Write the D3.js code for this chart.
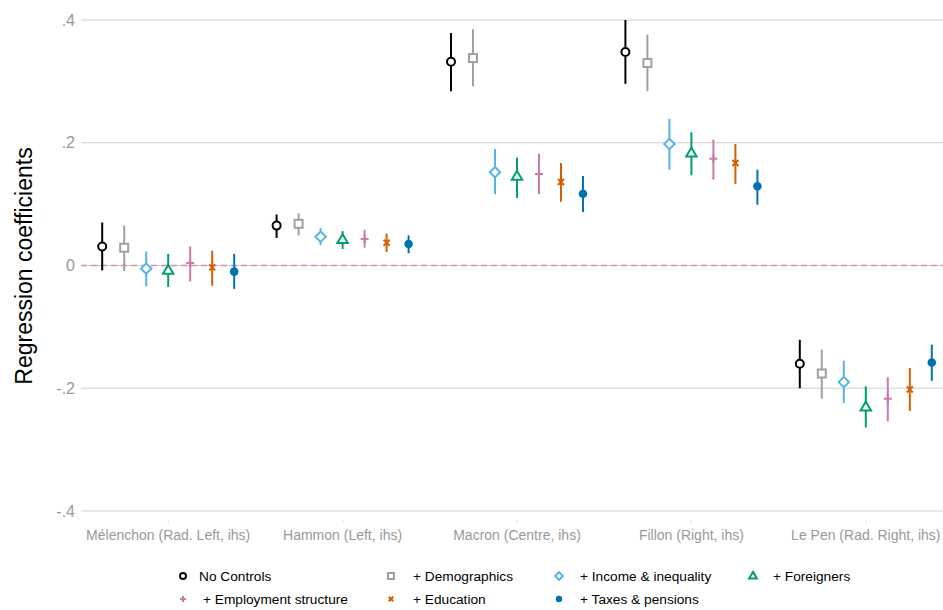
<!DOCTYPE html>
<html><head><meta charset="utf-8">
<script src="https://cdn.jsdelivr.net/npm/d3@7"></script>
<style>body{margin:0;background:#fff}svg{display:block;font-family:"Liberation Sans",Arial,sans-serif}</style>
</head><body><svg id="c" width="943" height="610"></svg>
<script>
const categories = ["Mélenchon (Rad. Left, ihs)","Hammon (Left, ihs)","Macron (Centre, ihs)","Fillon (Right, ihs)","Le Pen (Rad. Right, ihs)"];
const seriesNames = ["No Controls","+ Demographics","+ Income & inequality","+ Foreigners","+ Employment structure","+ Education","+ Taxes & pensions"];
const seriesColors = ["#000000","#a0a0a0","#56B4E9","#009E73","#CC79A7","#D55E00","#0072B2"];
const seriesSymbols = ["circle","square","diamond","triangle","plus","cross","dot"];
// estimates [category][series]
const est = [
  [0.031, 0.029, -0.005, -0.008, 0.004, -0.003, -0.010],
  [0.065, 0.068, 0.047, 0.042, 0.043, 0.037, 0.035],
  [0.332, 0.338, 0.152, 0.145, 0.149, 0.136, 0.117],
  [0.348, 0.330, 0.198, 0.183, 0.174, 0.167, 0.129],
  [-0.160, -0.176, -0.190, -0.231, -0.217, -0.202, -0.158]
];
const lower = [
  [-0.008, -0.009, -0.034, -0.035, -0.026, -0.033, -0.038],
  [0.045, 0.049, 0.033, 0.027, 0.029, 0.022, 0.020],
  [0.284, 0.292, 0.116, 0.110, 0.116, 0.104, 0.087],
  [0.296, 0.284, 0.156, 0.147, 0.140, 0.133, 0.099],
  [-0.200, -0.217, -0.224, -0.264, -0.254, -0.237, -0.188]
];
const upper = [
  [0.070, 0.065, 0.023, 0.019, 0.031, 0.024, 0.019],
  [0.083, 0.085, 0.061, 0.056, 0.058, 0.052, 0.049],
  [0.379, 0.385, 0.190, 0.176, 0.182, 0.167, 0.146],
  [0.400, 0.376, 0.239, 0.217, 0.205, 0.198, 0.156],
  [-0.121, -0.137, -0.155, -0.197, -0.182, -0.167, -0.129]
];
const yTicks = [0.4, 0.2, 0, -0.2, -0.4];
const yTickLabels = [".4", ".2", "0", "-.2", "-.4"];

const svg = d3.select("#c");
const x = d3.scaleBand().domain(categories).range([81, 953]);
const y = d3.scaleLinear().domain([-0.4, 0.4]).range([511, 20]);
const off = d3.scalePoint().domain(seriesNames).range([-66, 66]);

// gridlines
svg.append("g").selectAll("line").data(yTicks).join("line")
  .attr("x1", 81).attr("x2", 943)
  .attr("y1", d => y(d)).attr("y2", d => y(d))
  .attr("stroke", "#cfcfcf").attr("stroke-width", 1.2);
// y tick labels
svg.append("g").selectAll("text").data(yTicks).join("text")
  .attr("x", 75).attr("y", d => y(d)).attr("dy", "0.35em")
  .attr("text-anchor", "end").attr("fill", "#999").attr("font-size", 16)
  .text((d, i) => yTickLabels[i]);
// y title
svg.append("text").attr("transform", `translate(32,266) rotate(-90)`)
  .attr("text-anchor", "middle").attr("font-size", 23).attr("fill", "#000")
  .text("Regression coefficients");
// zero reference line
svg.append("line").attr("x1", 81).attr("x2", 943).attr("y1", y(0)).attr("y2", y(0))
  .attr("stroke", "#d58fb4").attr("stroke-width", 1.5).attr("stroke-dasharray", "6,4");
// x axis labels & ticks
const xg = svg.append("g");
xg.selectAll("line").data(categories).join("line")
  .attr("x1", d => x(d) + x.bandwidth() / 2).attr("x2", d => x(d) + x.bandwidth() / 2)
  .attr("y1", 520).attr("y2", 523).attr("stroke", "#ddd");
xg.selectAll("text").data(categories).join("text")
  .attr("x", d => x(d) + x.bandwidth() / 2).attr("y", 540)
  .attr("text-anchor", "middle").attr("fill", "#999").attr("font-size", 14)
  .text(d => d);

function drawSymbol(g, type, color, cx, cy, scale) {
  const s = scale || 1;
  if (type === "circle") {
    g.append("circle").attr("cx", cx).attr("cy", cy).attr("r", 4 * s).attr("fill", "#fff").attr("stroke", color).attr("stroke-width", 2);
  } else if (type === "dot") {
    g.append("circle").attr("cx", cx).attr("cy", cy).attr("r", 4.3 * s).attr("fill", color);
  } else if (type === "square") {
    g.append("rect").attr("x", cx - 4 * s).attr("y", cy - 4 * s).attr("width", 8 * s).attr("height", 8 * s).attr("fill", "#fff").attr("stroke", color).attr("stroke-width", 2);
  } else if (type === "diamond") {
    const r = 5.2 * s;
    g.append("path").attr("d", `M${cx},${cy - r}L${cx + r},${cy}L${cx},${cy + r}L${cx - r},${cy}Z`).attr("fill", "#fff").attr("stroke", color).attr("stroke-width", 2);
  } else if (type === "triangle") {
    const r = 5.5 * s;
    g.append("path").attr("d", `M${cx},${cy - r}L${cx + r * 0.95},${cy + r * 0.6}L${cx - r * 0.95},${cy + r * 0.6}Z`).attr("fill", "#fff").attr("stroke", color).attr("stroke-width", 2);
  } else if (type === "plus") {
    const r = 4 * s;
    g.append("path").attr("d", `M${cx - r},${cy}H${cx + r}M${cx},${cy - r}V${cy + r}`).attr("stroke", color).attr("stroke-width", 2);
  } else if (type === "cross") {
    const r = 3 * s;
    g.append("path").attr("d", `M${cx - r},${cy - r}L${cx + r},${cy + r}M${cx - r},${cy + r}L${cx + r},${cy - r}`).attr("stroke", color).attr("stroke-width", 2);
  }
}

const marks = svg.append("g");
categories.forEach((c, ci) => {
  seriesNames.forEach((s, si) => {
    const cx = x(c) + x.bandwidth() / 2 + off(s);
    marks.append("line").attr("x1", cx).attr("x2", cx)
      .attr("y1", y(lower[ci][si])).attr("y2", y(upper[ci][si]))
      .attr("stroke", seriesColors[si]).attr("stroke-width", 2);
    drawSymbol(marks, seriesSymbols[si], seriesColors[si], cx, y(est[ci][si]));
  });
});

// legend
const legendPos = [[183, 576], [391, 576], [559, 576], [753, 576], [183, 599], [391, 599], [559, 599]];
const legendTextX = [199, 413, 580, 773, 203, 413, 580];
const lg = svg.append("g");
seriesNames.forEach((s, i) => {
  drawSymbol(lg, seriesSymbols[i], seriesColors[i], legendPos[i][0], legendPos[i][1], 0.75);
  lg.append("text").attr("x", legendTextX[i]).attr("y", legendPos[i][1]).attr("dy", "0.35em")
    .attr("font-size", 13.7).attr("fill", "#000").text(s);
});
</script></body></html>
